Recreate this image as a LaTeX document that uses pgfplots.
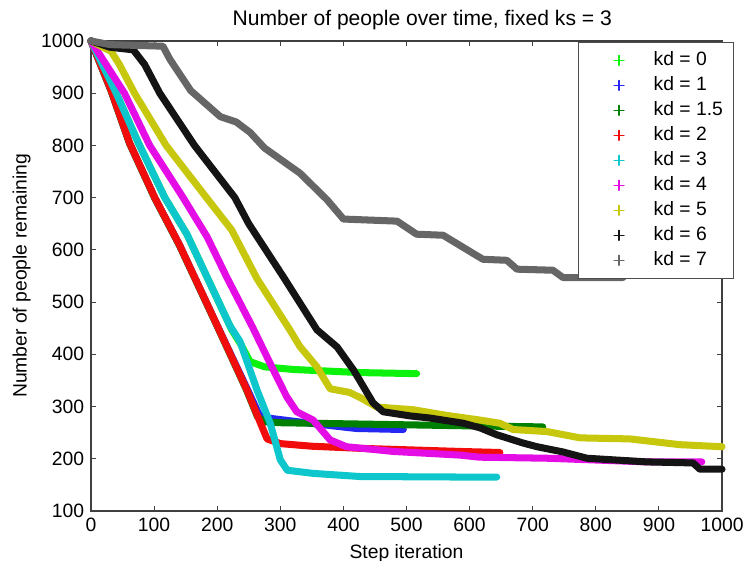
\documentclass[border=0pt]{standalone}
\usepackage{fontspec}
\setmainfont{Liberation Sans}
\usepackage{pgfplots}
\pgfplotsset{compat=1.18}

\definecolor{kdZero}{rgb}{0.05,0.95,0.05}
\definecolor{kdOne}{rgb}{0.15,0.15,0.95}
\definecolor{kdOneHalf}{rgb}{0,0.5,0}
\definecolor{kdTwo}{rgb}{0.95,0.05,0.05}
\definecolor{kdThree}{rgb}{0.05,0.78,0.8}
\definecolor{kdFour}{rgb}{0.9,0.05,0.9}
\definecolor{kdFive}{rgb}{0.78,0.78,0.05}
\definecolor{kdSix}{rgb}{0.08,0.08,0.08}
\definecolor{kdSeven}{rgb}{0.4,0.4,0.4}

\begin{document}
\fontsize{11}{13}\selectfont
\begin{tikzpicture}
\begin{axis}[
    scale only axis,
    width=12.62cm, height=9.4cm,
    xmin=0, xmax=1000, ymin=100, ymax=1000,
    xtick={0,100,...,1000}, ytick={100,200,...,1000},
    /pgf/number format/assume math mode=true,
    /pgf/number format/1000 sep={},
    tick label style={font=\fontsize{11}{13}\selectfont},
    label style={font=\fontsize{11}{13}\selectfont},
    ylabel style={yshift=-1.5pt},
    title style={font=\fontsize{12}{14}\selectfont, xshift=9pt, yshift=-3.7pt},
    title={Number of people over time, fixed ks = 3},
    xlabel={Step iteration},
    ylabel={Number of people remaining},
    axis line style={draw=black!75, line width=0.8pt},
    major tick style={draw=black!75, line width=0.6pt},
    major tick length=0.1cm,
    tick align=inside,
    clip=false,
    every axis plot/.append style={line width=4pt, line join=round, line cap=round},
    legend image code/.code={\path (0cm,0cm) (1.15cm,0cm);
        \draw[#1, line width=0.8pt, mark=+, mark size=2.8pt] plot coordinates {(0.6cm,0cm)};},
    legend cell align=left,
    legend style={at={(1.019,0.998)}, anchor=north east, draw=black!70,
        line width=0.6pt, inner xsep=4pt, inner ysep=3.4pt, row sep=0.6pt,
        font=\fontsize{11}{13}\selectfont},
]
% kd = 0
\addplot[color=kdZero] coordinates {(0,1000) (40,900) (75,805) (117,700) (152,630) (223,447) (238,418) (252,386) (275,376) (320,371) (426,365) (516,363)};
% kd = 1
\addplot[color=kdOne] coordinates {(0,1000) (32,905) (61,805) (101,700) (140,610) (200,455) (247,335) (267,283) (280,278) (347,268) (420,258) (495,256)};
% kd = 1.5
\addplot[color=kdOneHalf] coordinates {(0,1000) (32,904) (61,804) (101,699) (140,609) (200,454) (246,333) (264,280) (275,271) (300,269) (400,267) (500,265) (600,263) (716,261)};
% kd = 2
\addplot[color=kdTwo] coordinates {(0,1000) (32,905) (61,805) (101,700) (140,610) (200,455) (247,332) (268,270) (279,238) (300,229) (350,224) (426,220) (585,214) (648,212)};
% kd = 3
\addplot[color=kdThree] coordinates {(0,1000) (40,900) (75,805) (117,700) (152,630) (220,455) (236,425) (263,332) (284,268) (300,198) (311,178) (352,172) (426,166) (585,165) (643,165)};
% kd = 4
\addplot[color=kdFour] coordinates {(0,1000) (53,900) (93,800) (146,700) (184,625) (215,548) (256,452) (289,370) (310,319) (326,290) (352,274) (379,236) (405,223) (479,214) (585,207) (616,203) (723,201) (881,194) (968,194)};
% kd = 5
\addplot[color=kdFive] coordinates {(0,1000) (32,980) (45,955) (69,900) (119,800) (183,700) (223,638) (263,545) (315,447) (331,415) (358,376) (379,334) (410,327) (430,315) (453,299) (510,294) (564,283) (617,274) (648,268) (669,256) (723,252) (775,240) (854,238) (933,227) (1000,223)};
% kd = 6
\addplot[color=kdSix] coordinates {(0,1000) (30,988) (67,983) (85,955) (109,900) (164,800) (228,700) (250,650) (305,548) (358,447) (390,414) (416,370) (447,307) (463,290) (506,282) (537,278) (590,268) (617,259) (643,246) (685,230) (707,223) (748,213) (786,201) (881,194) (954,192) (965,180) (1000,180)};
% kd = 7
\addplot[color=kdSeven] coordinates {(0,1000) (30,993) (114,990) (125,965) (158,905) (205,855) (230,845) (252,825) (275,795) (331,747) (374,696) (400,659) (485,655) (516,630) (558,628) (621,582) (659,580) (675,563) (732,561) (748,547) (843,547)};
\legend{kd = 0, kd = 1, kd = 1.5, kd = 2, kd = 3, kd = 4, kd = 5, kd = 6, kd = 7}
\coordinate (bbsw) at (axis description cs:-0.1442,-0.1064);
\coordinate (bbne) at (axis description cs:1.0396,1.0872);
\end{axis}
\pgfresetboundingbox
\path[use as bounding box] (bbsw) rectangle (bbne);
\end{tikzpicture}
\end{document}
